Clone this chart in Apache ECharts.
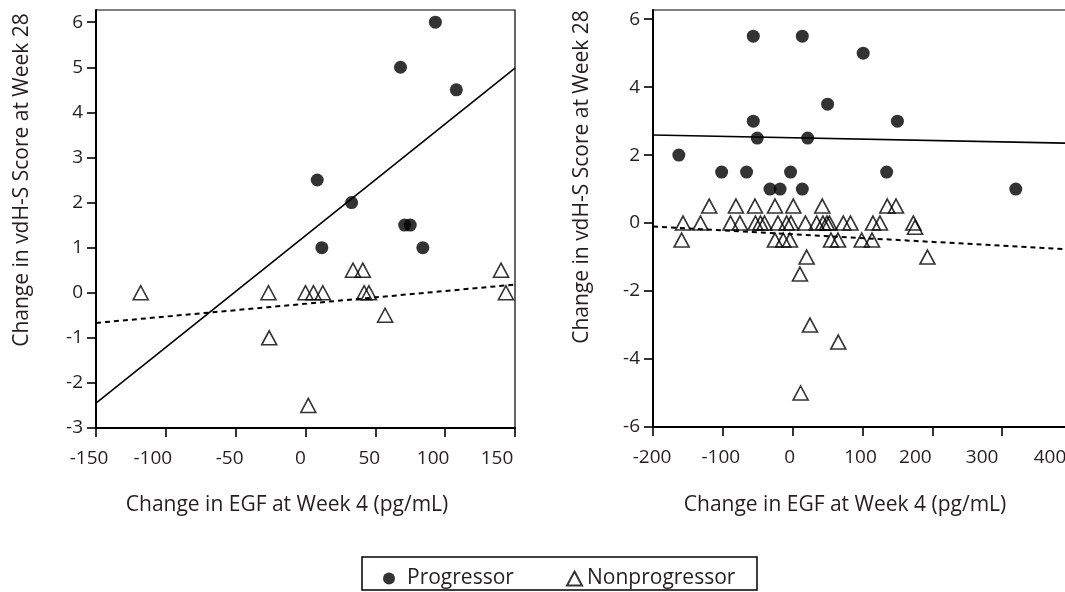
<!DOCTYPE html>
<html>
<head>
<meta charset="utf-8">
<script src="https://cdn.jsdelivr.net/npm/echarts@6/dist/echarts.min.js"></script>
<style>html,body{margin:0;padding:0;background:#fff}#c{width:1065px;height:592px}</style>
</head>
<body>
<div id="c"></div>
<script>
// ---- Data ----
const leftProgX = [93, 68, 108, 8.4, 33, 71, 75, 11.7, 84];
const leftProgY = [6, 5, 4.5, 2.5, 2, 1.5, 1.5, 1, 1];
const leftNonX = [-118, -26.5, -26, 0, 5.7, 12.4, 34, 41, 42, 45.4, 57, 2, 140, 143.5];
const leftNonY = [0, 0, -1, 0, 0, 0, 0.5, 0.5, 0, 0, -0.5, -2.5, 0.5, 0];
const leftFitProgX = [-150, 150];
const leftFitProgY = [-2.45, 4.98];
const leftFitNonX = [-150, 150];
const leftFitNonY = [-0.67, 0.18];

const rightProgX = [-56.4, 13.8, 101, 50, -56.4, 150, -50.7, 21.5, -163, -101.7, -66, -3, 134.6, -32.5, -18, 13.8, 319.5];
const rightProgY = [5.5, 5.5, 5, 3.5, 3, 3, 2.5, 2.5, 2, 1.5, 1.5, 1.5, 1.5, 1, 1, 1, 1];
const rightNonX = [-119.5, -81.2, -54, -25.3, 0.9, 42.4, 135.5, 148,
  -157, -132, -89, -75.5, -53.3, -46.1, -40.4, -21.1, -8.6, -2.4, 18.3, 34.4, 43.4, 49.1, 52.7, 72.5, 82.8, 115, 125, 172.8, 175.2,
  -159, -25.4, -13.5, -3.9, 54.9, 64.9, 98.9, 113.6,
  20, 193, 10.4, 24.8, 65.3, 11.4];
const rightNonY = [0.5, 0.5, 0.5, 0.5, 0.5, 0.5, 0.5, 0.5,
  0, 0, 0, 0, 0, 0, 0, 0, 0, 0, 0, 0, 0, 0, 0, 0, 0, 0, 0, 0, -0.12,
  -0.5, -0.5, -0.5, -0.5, -0.5, -0.5, -0.5, -0.5,
  -1, -1, -1.5, -3, -3.5, -5];
const rightFitProgX = [-200, 400];
const rightFitProgY = [2.59, 2.35];
const rightFitNonX = [-200, 400];
const rightFitNonY = [-0.1, -0.78];

const leftXTicks = [-150, -100, -50, 0, 50, 100, 150];
const rightXTicks = [-200, -100, 0, 100, 200, 300, 400];
const leftYTicks = [-3, -2, -1, 0, 1, 2, 3, 4, 5, 6];
const rightYTicks = [-6, -4, -2, 0, 2, 4, 6];

const yTitle = 'Change in vdH-S Score at Week 28';
const xTitle = 'Change in EGF at Week 4 (pg/mL)';
const legendNames = ['Progressor', 'Nonprogressor'];

// ---- styling helpers ----
// horizontal nudges (px, negative = left) of the x tick labels, as typeset in the reference
const leftXLabelNudge = [-7, -13, -6, -5, -6, -12, -18];
const rightXLabelNudge = [-1, -2, -3, -2, -17, -20, -22];

const zip = (xs, ys) => xs.map((x, i) => [x, ys[i]]);
const FONT = 'Open Sans';
const TXT = '#231f20';
const TICKSIZE = 19;

function xAxisCfg(gi, min, max, interval, ticks, nudges) {
  const rich = {};
  ticks.forEach((t, i) => {
    rich['t' + i] = { color: TXT, fontFamily: FONT, fontSize: TICKSIZE, padding: [0, Math.max(0, -2 * nudges[i]), 0, Math.max(0, 2 * nudges[i])] };
  });
  return {
    gridIndex: gi, type: 'value', min, max, interval,
    axisLine: { show: true, onZero: false, lineStyle: { color: '#000', width: 2 } },
    axisTick: { show: true, inside: false, length: 9, lineStyle: { color: '#000', width: 1.6 } },
    axisLabel: {
      color: TXT, fontFamily: FONT, fontSize: TICKSIZE, margin: 21,
      formatter: (v) => { const i = ticks.indexOf(v); return i < 0 ? '' : '{t' + i + '|' + v + '}'; },
      rich
    },
    splitLine: { show: false }
  };
}
function yAxisCfg(gi, min, max, ticks) {
  return {
    gridIndex: gi, type: 'value', min, max,
    axisLine: { show: true, onZero: false, lineStyle: { color: '#000', width: 2 } },
    axisTick: { show: true, inside: false, length: 9, customValues: ticks, lineStyle: { color: '#000', width: 1.6 } },
    axisLabel: { color: TXT, fontFamily: FONT, fontSize: TICKSIZE, margin: 13, customValues: ticks },
    splitLine: { show: false }
  };
}
function progSeries(xi, data) {
  return { name: legendNames[0], type: 'scatter', xAxisIndex: xi, yAxisIndex: xi, data, symbol: 'circle', symbolSize: 13,
    itemStyle: { color: '#000' }, z: 5 };
}
function nonSeries(xi, data) {
  return { name: legendNames[1], type: 'scatter', xAxisIndex: xi, yAxisIndex: xi, data, symbol: 'triangle', symbolSize: [15, 14],
    itemStyle: { color: 'rgba(255,255,255,0)', borderColor: '#000', borderWidth: 1.6 }, z: 5 };
}
function fitSeries(xi, data, dashed) {
  return { type: 'line', xAxisIndex: xi, yAxisIndex: xi, data, symbol: 'none', silent: true,
    lineStyle: { color: '#000', width: dashed ? 2 : 1.6, type: dashed ? [5, 4] : 'solid' }, z: 3 };
}
const titleFont = '21px "Open Sans"';

const chart = echarts.init(document.getElementById('c'), null, { renderer: 'canvas' });
chart.setOption({
  animation: false,
  backgroundColor: '#fff',
  grid: [
    { left: 96, right: 550, top: 10, bottom: 164, show: true, borderColor: '#000', borderWidth: 1.2, outerBoundsMode: 'none', containLabel: false },
    { left: 653, right: -7, top: 10, bottom: 165, show: true, borderColor: '#000', borderWidth: 1.2, outerBoundsMode: 'none', containLabel: false }
  ],
  xAxis: [xAxisCfg(0, -150, 150, 50, leftXTicks, leftXLabelNudge), xAxisCfg(1, -200, 400, 100, rightXTicks, rightXLabelNudge)],
  yAxis: [yAxisCfg(0, -3, 6.27, leftYTicks), yAxisCfg(1, -6, 6.27, rightYTicks)],
  legend: [
    { data: [legendNames[0]], left: 378, top: 563, itemWidth: 26, itemHeight: 12, selectedMode: false,
      textStyle: { color: TXT, fontFamily: FONT, fontSize: 21 } },
    { data: [legendNames[1]], left: 561, top: 563, itemWidth: 15, itemHeight: 14, selectedMode: false,
      textStyle: { color: TXT, fontFamily: FONT, fontSize: 21 } }
  ],
  graphic: [
    { type: 'rect', shape: { x: 362, y: 557, width: 395, height: 33 }, style: { fill: 'none', stroke: '#000', lineWidth: 1.5 }, silent: true },
    { type: 'text', x: 22, y: 180, rotation: Math.PI / 2, style: { text: yTitle, fill: TXT, font: titleFont, textAlign: 'center', textVerticalAlign: 'middle' } },
    { type: 'text', x: 582, y: 177, rotation: Math.PI / 2, style: { text: yTitle, fill: TXT, font: titleFont, textAlign: 'center', textVerticalAlign: 'middle' } },
    { type: 'text', x: 287, y: 505, style: { text: xTitle, fill: TXT, font: titleFont, textAlign: 'center', textVerticalAlign: 'middle' } },
    { type: 'text', x: 845, y: 505, style: { text: xTitle, fill: TXT, font: titleFont, textAlign: 'center', textVerticalAlign: 'middle' } }
  ],
  series: [
    fitSeries(0, zip(leftFitProgX, leftFitProgY), false),
    fitSeries(0, zip(leftFitNonX, leftFitNonY), true),
    progSeries(0, zip(leftProgX, leftProgY)),
    nonSeries(0, zip(leftNonX, leftNonY)),
    fitSeries(1, zip(rightFitProgX, rightFitProgY), false),
    fitSeries(1, zip(rightFitNonX, rightFitNonY), true),
    progSeries(1, zip(rightProgX, rightProgY)),
    nonSeries(1, zip(rightNonX, rightNonY))
  ]
});
</script>
</body>
</html>
